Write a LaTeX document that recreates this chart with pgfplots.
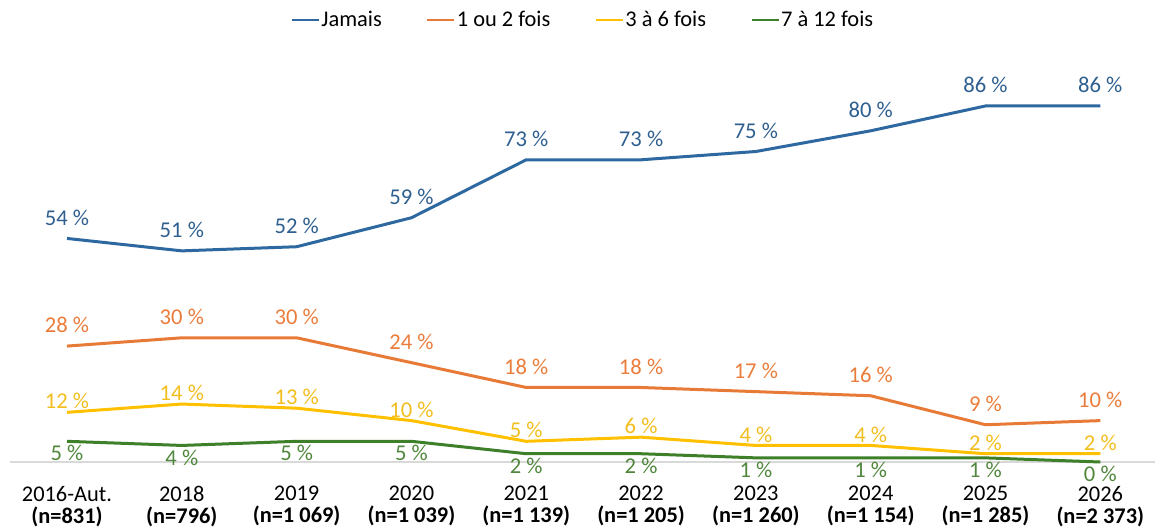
\documentclass[border=0pt]{standalone}
\usepackage{pgfplots}
\pgfplotsset{compat=1.18}
\usepackage{pgfplotstable}
\usepackage{fontspec}
\setmainfont{Carlito}
\definecolor{cblue}{RGB}{46,104,160}
\definecolor{cbluet}{RGB}{46,95,143}
\definecolor{corange}{RGB}{232,122,55}
\definecolor{coranget}{RGB}{235,125,60}
\definecolor{cyellow}{RGB}{255,192,0}
\definecolor{cyellowt}{RGB}{242,190,30}
\definecolor{cgreen}{RGB}{62,128,42}
\definecolor{cgreent}{RGB}{80,135,60}
\pgfplotstableread{
x jamais f12 f36 f712
0 54 28 12 5
1 51 30 14 4
2 52 30 13 5
3 59 24 10 5
4 73 18 5 2
5 73 18 6 2
6 75 17 4 1
7 80 16 4 1
8 86 9 2 1
9 86 10 2 0
}\data
\begin{document}
\begin{tikzpicture}
\begin{axis}[
  scale only axis,
  width=572.9pt, height=207pt,
  xmin=-0.5, xmax=9.48,
  ymin=0, ymax=100,
  clip=false,
  axis y line=none,
  axis x line*=bottom,
  x axis line style={draw=gray!30, line width=0.8pt, -},
  xtick=data,
  xtick style={draw=none},
  major tick length=0pt,
  /pgf/number format/assume math mode=true,
  xticklabels={{2016-Aut.\\\textbf{(n=831)}},{2018\\\textbf{(n=796)}},{2019\\\textbf{(n=1 069)}},{2020\\\textbf{(n=1 039)}},{2021\\\textbf{(n=1 139)}},{2022\\\textbf{(n=1 205)}},{2023\\\textbf{(n=1 260)}},{2024\\\textbf{(n=1 154)}},{2025\\\textbf{(n=1 285)}},{2026\\\textbf{(n=2 373)}}},
  xticklabel style={align=center, font=\fontsize{11.2}{11}\selectfont, text=black, yshift=-8.5pt},
  nodes near coords={\pgfmathprintnumber[fixed,precision=0,assume math mode=true]{\pgfplotspointmeta}~\%},
  every node near coord/.append style={font=\fontsize{11.3}{13}\selectfont, anchor=center, inner sep=0pt},
  legend columns=4,
  legend style={at={(0.5,1)}, yshift=14pt, anchor=center, draw=none, fill=none,
    font=\fontsize{11.2}{13}\selectfont, nodes={inner sep=0.6pt},
    /tikz/every even column/.append style={column sep=21.5pt}},
  legend image code/.code={\draw[#1, line width=1.3pt] (0pt,0pt) -- (13.5pt,0pt);},
]
\addplot[cblue, line width=1.5pt, every node near coord/.append style={text=cbluet, yshift=10.5pt}] table[x=x, y=jamais] {\data};
\addlegendentry{Jamais}
\addplot[corange, line width=1.5pt, every node near coord/.append style={text=coranget, yshift=10.5pt}] table[x=x, y=f12] {\data};
\addlegendentry{1 ou 2 fois}
\addplot[cyellow, line width=1.5pt, every node near coord/.append style={text=cyellowt, yshift=5.5pt}] table[x=x, y=f36] {\data};
\addlegendentry{3 à 6 fois}
\addplot[cgreen, line width=1.5pt, every node near coord/.append style={text=cgreent, yshift=-6pt}] table[x=x, y=f712] {\data};
\addlegendentry{7 à 12 fois}
\end{axis}
\pgfresetboundingbox
\path (-4.8pt,-32.5pt) rectangle (573.2pt,231pt);
\end{tikzpicture}
\end{document}
